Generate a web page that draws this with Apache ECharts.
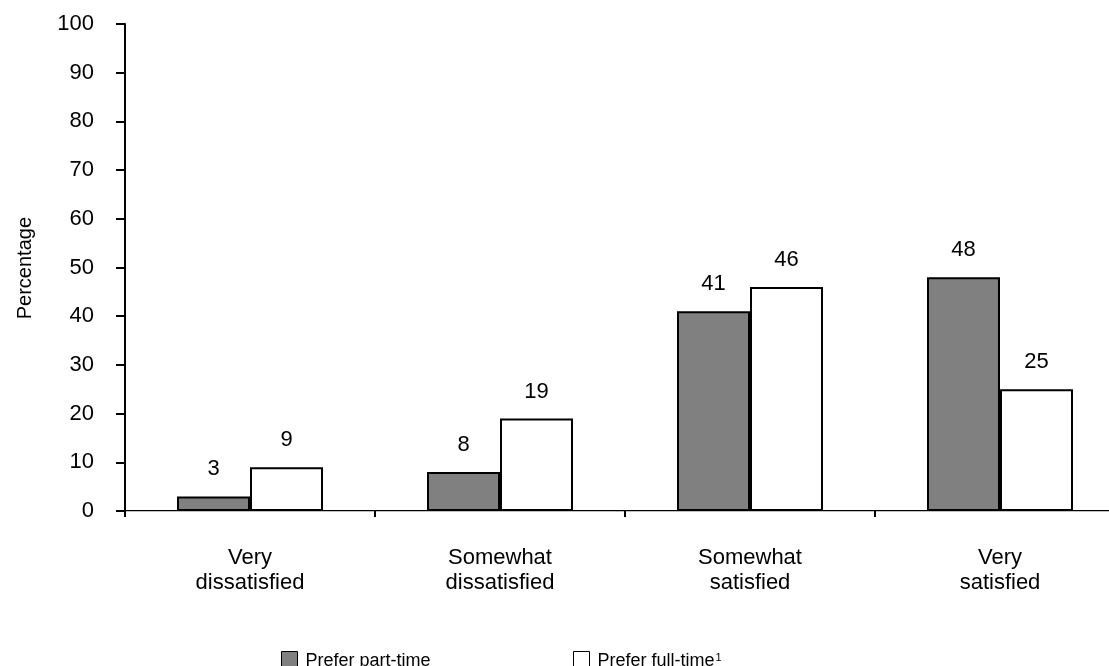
<!DOCTYPE html>
<html>
<head>
<meta charset="utf-8">
<script src="https://cdn.jsdelivr.net/npm/echarts@6/dist/echarts.min.js"></script>
<style>
  html, body { margin: 0; padding: 0; background: #fff; }
  #chart { width: 1109px; height: 666px; }
</style>
</head>
<body>
<div id="chart"></div>
<script>
// Job satisfaction by preferred work schedule (percent)
const categories = ['Very\ndissatisfied', 'Somewhat\ndissatisfied', 'Somewhat\nsatisfied', 'Very\nsatisfied'];
const partTime = [3, 8, 41, 48];
const fullTime = [9, 19, 46, 25];
const yTicks = { min: 0, max: 100, interval: 10 };

const FONT = '"Liberation Sans", Arial, sans-serif';
const chart = echarts.init(document.getElementById('chart'), null, { renderer: 'canvas' });

const barLabel = {
  show: true,
  position: 'top',
  distance: 16,
  color: '#000',
  fontFamily: FONT,
  fontSize: 22
};

const legendText = { fontFamily: FONT, fontSize: 18, color: '#000', padding: [0, 0, 0, 3] };

chart.setOption({
  animation: false,
  backgroundColor: '#fff',
  textStyle: { fontFamily: FONT, color: '#000' },
  // the last category runs past the right edge of the canvas
  grid: { left: 125, width: 1000, top: 24, bottom: 155, containLabel: false, outerBoundsMode: 'none' },
  legend: [
    {
      data: [{ name: 'Prefer part-time', icon: 'rect' }],
      left: 276, top: 646,
      itemWidth: 16, itemHeight: 20, itemGap: 0,
      itemStyle: { borderColor: '#000', borderWidth: 1 },
      textStyle: legendText,
      selectedMode: false
    },
    {
      data: [{ name: 'Prefer full-time', icon: 'rect' }],
      left: 568, top: 646,
      itemWidth: 16, itemHeight: 20, itemGap: 0,
      itemStyle: { borderColor: '#000', borderWidth: 1 },
      formatter: function (n) { return '{a|' + n + '}{s|1}'; },
      textStyle: Object.assign({}, legendText, {
        rich: {
          a: { fontFamily: FONT, fontSize: 18, color: '#000' },
          s: { fontFamily: FONT, fontSize: 11, color: '#000', verticalAlign: 'top', padding: [0, 0, 6, 1] }
        }
      }),
      selectedMode: false
    }
  ],
  xAxis: [
    {
      type: 'category',
      data: categories,
      position: 'bottom',
      axisLine: { show: true, onZero: false, lineStyle: { color: '#000', width: 2 } },
      axisTick: { show: true, alignWithLabel: false, length: 6, lineStyle: { color: '#000', width: 2 } },
      axisLabel: { color: '#000', fontFamily: FONT, fontSize: 22, margin: 34, lineHeight: 25 },
      splitLine: { show: false }
    },
    {
      type: 'category',
      data: categories,
      position: 'top',
      axisLine: { show: true, lineStyle: { color: '#c0c0c0', width: 1 } },
      axisTick: { show: false },
      axisLabel: { show: false },
      splitLine: { show: false }
    }
  ],
  yAxis: {
    type: 'value',
    min: yTicks.min,
    max: yTicks.max,
    interval: yTicks.interval,
    axisLine: { show: true, lineStyle: { color: '#000', width: 2 } },
    axisTick: { show: true, inside: false, length: 9, lineStyle: { color: '#000', width: 2 } },
    axisLabel: { color: '#000', fontFamily: FONT, fontSize: 22, margin: 31 },
    splitLine: { show: false }
  },
  graphic: [
    {
      type: 'text',
      left: 15, top: 217,
      rotation: Math.PI / 2,
      style: { text: 'Percentage', fontFamily: FONT, fontSize: 20, fill: '#000' }
    }
  ],
  series: [
    {
      name: 'Prefer part-time',
      type: 'bar',
      data: partTime,
      barGap: '0%',
      barCategoryGap: '41.6%',
      itemStyle: { color: '#808080', borderColor: '#000', borderWidth: 2 },
      label: barLabel
    },
    {
      name: 'Prefer full-time',
      type: 'bar',
      data: fullTime,
      itemStyle: { color: '#fff', borderColor: '#000', borderWidth: 2 },
      label: barLabel
    }
  ]
});
</script>
</body>
</html>
